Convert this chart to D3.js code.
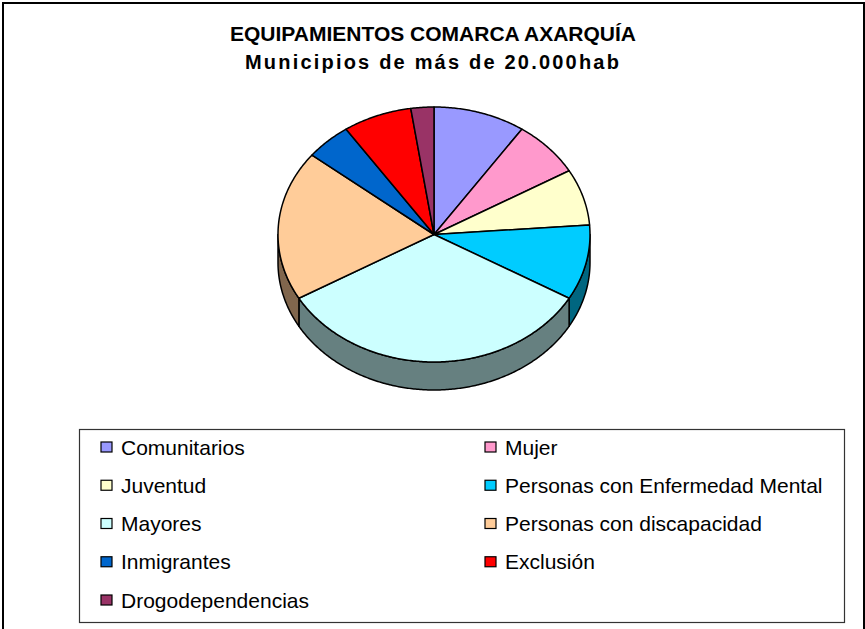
<!DOCTYPE html>
<html>
<head>
<meta charset="utf-8">
<script src="https://cdn.jsdelivr.net/npm/d3@7"></script>
<style>
  body { margin: 0; background: #fff; }
  svg { display: block; font-family: "Liberation Sans", Arial, sans-serif; }
</style>
</head>
<body>
<svg id="chart"></svg>
<script>
// data (number of facilities per type)
const categories = ["Comunitarios", "Mujer", "Juventud", "Personas con Enfermedad Mental",
  "Mayores", "Personas con discapacidad", "Inmigrantes", "Exclusión", "Drogodependencias"];
const values = [4, 3, 3, 4, 14, 8, 2, 3, 1];
const colors = ["#9999FF", "#FF99CC", "#FFFFCC", "#00CCFF", "#CCFFFF", "#FFCC99", "#0066CC", "#FF0000", "#993366"];
const titleLines = ["EQUIPAMIENTOS COMARCA AXARQUÍA", "Municipios de más de 20.000hab"];

const W = 865, H = 629;
let svg = d3.select("#chart").attr("width", W).attr("height", H);

// outer frame (bottom edge falls outside the picture)
svg.append("rect").attr("x", 3).attr("y", 3).attr("width", 861).attr("height", 660)
  .attr("fill", "#fff").attr("stroke", "#000").attr("stroke-width", 2);

// title
svg.append("text").attr("x", 433).attr("y", 41).attr("text-anchor", "middle")
  .attr("font-size", 21).attr("font-weight", "bold").text(titleLines[0]);
svg.append("text").attr("x", 433).attr("y", 69).attr("text-anchor", "middle")
  .attr("font-size", 20).attr("font-weight", "bold").attr("letter-spacing", 2.2).text(titleLines[1]);

// 3d pie, projected as an ellipse
let cx = 434, cy = 234.5, rx = 156, ry = 127.5, depth = 28;
let color = d3.scaleOrdinal().domain(categories).range(colors);
let pie = d3.pie().sort(null).value(d => d.value);
let arcs = pie(categories.map((c, i) => ({name: c, value: values[i]})));

function pt(a, dy) {
  return [cx + rx * Math.sin(a), cy - ry * Math.cos(a) + (dy || 0)];
}
function arcPts(a0, a1, dy) {
  let n = Math.max(2, Math.ceil(Math.abs(a1 - a0) / 0.01));
  return d3.range(n + 1).map(k => pt(a0 + (a1 - a0) * k / n, dy));
}
let line = d3.line().curve(d3.curveLinearClosed);

function shade(c) {
  let r = d3.rgb(c);
  return d3.rgb(r.r * 0.5, r.g * 0.5, r.b * 0.5).formatHex();
}

let pieG = svg.append("g");

// side walls for the front half only
pieG.selectAll("path.side")
  .data(arcs.filter(d => d.endAngle > Math.PI / 2 && d.startAngle < 3 * Math.PI / 2))
  .join("path")
  .attr("class", "side")
  .attr("d", d => {
    let s = Math.max(d.startAngle, Math.PI / 2), e = Math.min(d.endAngle, 3 * Math.PI / 2);
    return line(arcPts(s, e, 0).concat(arcPts(e, s, depth)));
  })
  .attr("fill", d => shade(color(d.data.name)))
  .attr("stroke", "#000").attr("stroke-width", 1.5).attr("stroke-linejoin", "round");

// top faces
pieG.selectAll("path.top")
  .data(arcs)
  .join("path")
  .attr("class", "top")
  .attr("d", d => line([[cx, cy]].concat(arcPts(d.startAngle, d.endAngle, 0))))
  .attr("fill", d => color(d.data.name))
  .attr("stroke", "#000").attr("stroke-width", 1.5).attr("stroke-linejoin", "round");

// legend
svg.append("rect").attr("x", 79.5).attr("y", 429.5).attr("width", 765).attr("height", 193)
  .attr("fill", "#fff").attr("stroke", "#333").attr("stroke-width", 1.2);

let colX = d3.scaleOrdinal().domain([0, 1]).range([101, 485]);
let rowY = d3.scalePoint().domain(d3.range(5)).range([447, 600]);

let items = svg.append("g").selectAll("g")
  .data(categories)
  .join("g")
  .attr("transform", (d, i) => `translate(${colX(i % 2)},${rowY(Math.floor(i / 2))})`);

items.append("rect").attr("x", 0).attr("y", -5).attr("width", 11).attr("height", 10)
  .attr("fill", d => color(d)).attr("stroke", "#000").attr("stroke-width", 1.2);
items.append("text").attr("x", 20).attr("y", 7.5).attr("font-size", 21).text(d => d);
</script>
</body>
</html>
